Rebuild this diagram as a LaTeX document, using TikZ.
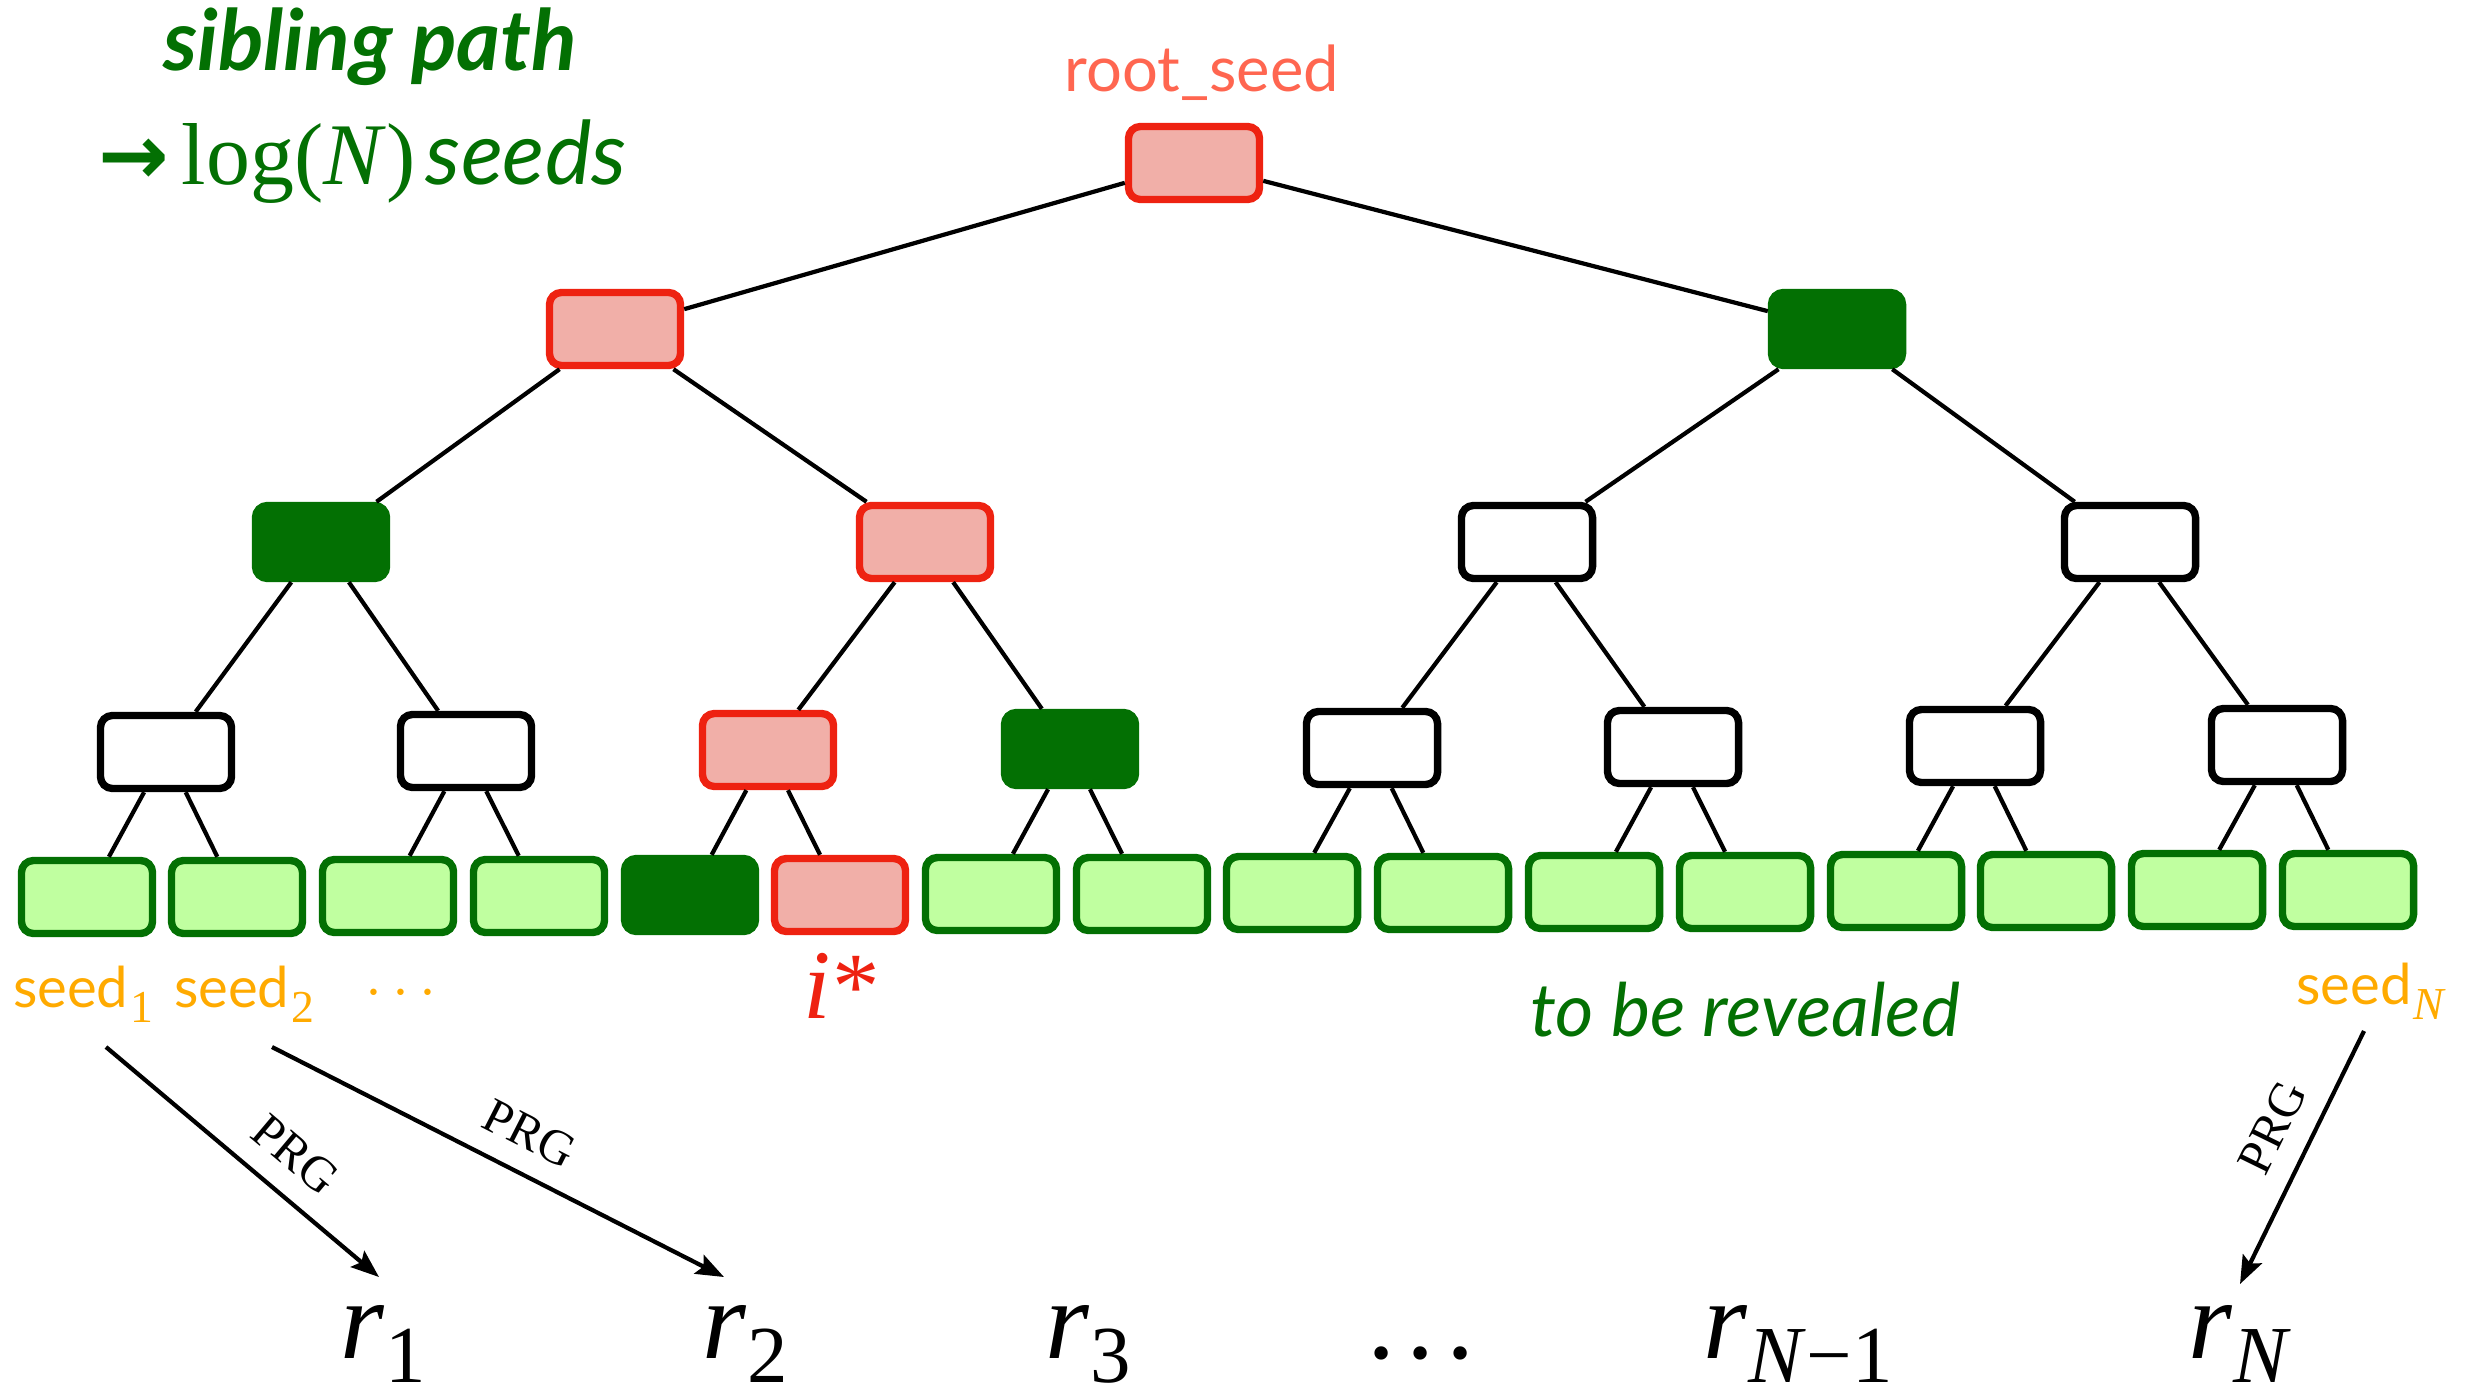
\documentclass[tikz,border=0pt]{standalone}
\usepackage{fontspec}
\setmainfont{Lato}
\newfontfamily\tms{Liberation Serif}
\newfontfamily\djv{DejaVu Sans}
\usetikzlibrary{arrows.meta,calc}
\definecolor{pinkfill}{HTML}{F1AFA8}
\definecolor{redline}{HTML}{EE2211}
\definecolor{dgreen}{HTML}{037003}
\definecolor{lgreen}{HTML}{C0FFA0}
\definecolor{seedorange}{HTML}{FFAA00}
\definecolor{salmon}{HTML}{FF6650}
% r_i labels: italic r with an upright, lowered index
\newcommand{\rlab}[1]{\textit{r}\kern0.01em\raisebox{-0.22em}{\fontsize{23}{23}\selectfont\upshape #1}}
\newcommand{\seedlab}[1]{seed\kern0.03em\raisebox{-0.28em}{\tms\fontsize{13}{13}\selectfont #1}}
\begin{document}
\begin{tikzpicture}[x=0.01cm,y=-0.01cm,
  treebox/.style={rectangle, rounded corners=0.12cm, minimum width=1.31cm,
    minimum height=0.73cm, inner sep=0pt, line width=2.1pt},
  pathbox/.style={treebox, draw=redline, fill=pinkfill},
  sibbox/.style={treebox, draw=dgreen, fill=dgreen},
  plainbox/.style={treebox, draw=black, fill=white},
  leafbox/.style={treebox, draw=dgreen, fill=lgreen},
  treeline/.style={line width=1.2pt},
  prg/.style={line width=1.2pt, -{Stealth[length=0.28cm,width=0.21cm,inset=0.05cm]}},
  prglabel/.style={font=\tms\fontsize{14}{14}\selectfont, sloped, above, inner sep=2pt, yshift=4pt},
  seedtext/.style={anchor=base, text=seedorange, font=\fontsize{16}{16}\selectfont},
  rtext/.style={anchor=base, inner sep=0pt, font=\tms\fontsize{32}{32}\selectfont},
]
\useasboundingbox (0,0) rectangle (2479,1394);

% ---- tree nodes ----
\node[pathbox] (root) at (1194,163) {};

\node[pathbox] (a1) at (615,329) {};
\node[sibbox]  (a2) at (1837,329) {};

\node[sibbox]   (b1) at (321,542) {};
\node[pathbox]  (b2) at (925,542) {};
\node[plainbox] (b3) at (1527,542) {};
\node[plainbox] (b4) at (2130,542) {};

\node[plainbox] (c1) at (166,752) {};
\node[plainbox] (c2) at (466,751) {};
\node[pathbox]  (c3) at (768,750) {};
\node[sibbox]   (c4) at (1070,749) {};
\node[plainbox] (c5) at (1372,748) {};
\node[plainbox] (c6) at (1673,747) {};
\node[plainbox] (c7) at (1975,746) {};
\node[plainbox] (c8) at (2277,745) {};

\node[leafbox] (l1)  at (87,897) {};
\node[leafbox] (l2)  at (237,897) {};
\node[leafbox] (l3)  at (388,896) {};
\node[leafbox] (l4)  at (539,896) {};
\node[sibbox]  (l5)  at (690,895) {};
\node[pathbox] (l6)  at (840,895) {};
\node[leafbox] (l7)  at (991,894) {};
\node[leafbox] (l8)  at (1142,894) {};
\node[leafbox] (l9)  at (1292,893) {};
\node[leafbox] (l10) at (1443,893) {};
\node[leafbox] (l11) at (1594,892) {};
\node[leafbox] (l12) at (1745,892) {};
\node[leafbox] (l13) at (1896,891) {};
\node[leafbox] (l14) at (2046,891) {};
\node[leafbox] (l15) at (2197,890) {};
\node[leafbox] (l16) at (2348,890) {};

% ---- tree edges ----
\draw[treeline] (root) -- (a1);
\draw[treeline] (root) -- (a2);
\draw[treeline] (a1) -- (b1);
\draw[treeline] (a1) -- (b2);
\draw[treeline] (a2) -- (b3);
\draw[treeline] (a2) -- (b4);
\draw[treeline] (b1) -- (c1);
\draw[treeline] (b1) -- (c2);
\draw[treeline] (b2) -- (c3);
\draw[treeline] (b2) -- (c4);
\draw[treeline] (b3) -- (c5);
\draw[treeline] (b3) -- (c6);
\draw[treeline] (b4) -- (c7);
\draw[treeline] (b4) -- (c8);
\draw[treeline] (c1) -- (l1);
\draw[treeline] (c1) -- (l2);
\draw[treeline] (c2) -- (l3);
\draw[treeline] (c2) -- (l4);
\draw[treeline] (c3) -- (l5);
\draw[treeline] (c3) -- (l6);
\draw[treeline] (c4) -- (l7);
\draw[treeline] (c4) -- (l8);
\draw[treeline] (c5) -- (l9);
\draw[treeline] (c5) -- (l10);
\draw[treeline] (c6) -- (l11);
\draw[treeline] (c6) -- (l12);
\draw[treeline] (c7) -- (l13);
\draw[treeline] (c7) -- (l14);
\draw[treeline] (c8) -- (l15);
\draw[treeline] (c8) -- (l16);

% ---- labels ----
\node[anchor=base, text=salmon, font=\fontsize{18}{18}\selectfont] (rootlab) at (1202,92) {root\_seed};

\node[anchor=base, text=dgreen, font=\bfseries\itshape\fontsize{24}{24}\selectfont] (sib) at (370,71) {sibling path};
\node[anchor=base west, text=dgreen, inner sep=0pt] (logn) at (98,185)
  {{\djv\bfseries\fontsize{24}{24}\selectfont →}\kern0.35em{\tms\fontsize{25}{25}\selectfont log(\textit{N})}\kern0.3em{\itshape\fontsize{25}{25}\selectfont seeds}};

\node[seedtext] (s1) at (83,1007) {\seedlab{1}};
\node[seedtext] (s2) at (244,1007) {\seedlab{2}};
\node[seedtext] (sdots) at (401,1007) {$\cdots$};
\node[seedtext] (sN) at (2371,1004) {\seedlab{\textit{N}}};

\node[anchor=base, text=redline, font=\tms\fontsize{28}{28}\selectfont] (istar) at (842,1018)
  {\textit{i}\kern0.02em{\fontsize{27}{27}\selectfont *}};

\node[anchor=base, text=dgreen, font=\itshape\fontsize{21}{21}\selectfont] (reveal) at (1745,1036) {to be revealed};

\node[rtext] (r1) at (383,1358) {\rlab{1}};
\node[rtext] (r2) at (745,1358) {\rlab{2}};
\node[rtext] (r3) at (1088,1358) {\rlab{3}};
\node[rtext] (rdots) at (1421,1358) {.\kern0.1em.\kern0.1em.};
\node[rtext] (rN1) at (1798,1358) {\rlab{\textit{N}−1}};
\node[rtext] (rN) at (2240,1358) {\rlab{\textit{N}}};

% ---- PRG arrows ----
\coordinate (p1s) at (106,1047);
\coordinate (p1e) at (379,1277);
\coordinate (p2s) at (272,1047);
\coordinate (p2e) at (724,1277);
\coordinate (pNs) at (2364,1031);
\coordinate (pNe) at (2240,1284);
\draw[prg] (p1s) -- node[prglabel, pos=0.6] {PRG} (p1e);
\draw[prg] (p2s) -- node[prglabel, pos=0.53] {PRG} (p2e);
\draw[prg] (pNs) -- node[prglabel, pos=0.45] {PRG} (pNe);
\end{tikzpicture}
\end{document}
